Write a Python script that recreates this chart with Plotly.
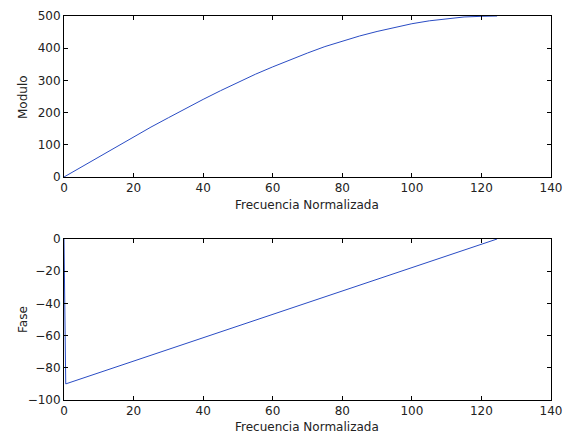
import plotly.graph_objects as go

# Data
freq_mod = [0, 5, 10, 15, 20, 25, 30, 35, 40, 45, 50, 55, 60, 65, 70, 75, 80,
            85, 90, 95, 100, 105, 110, 115, 120, 124.5]
modulo = [0, 31, 63, 94, 124, 155, 184, 213, 241, 268, 294, 319, 342, 364, 385,
          405, 422, 438, 452, 465, 476, 485, 492, 497, 499, 500]

freq_fase = [0, 0.5, 124.5]
fase = [0, -90, 0]

x_ticks = [0, 20, 40, 60, 80, 100, 120, 140]
mod_ticks = [0, 100, 200, 300, 400, 500]
fase_ticks = [-100, -80, -60, -40, -20, 0]

W, H = 563, 434
L, R = 64, 551
top_t, top_b = 16, 177
bot_t, bot_b = 239, 400

line_color = "#2a4cc4"
font = dict(family="DejaVu Sans, sans-serif", size=12, color="#222")

fig = go.Figure()
fig.add_trace(go.Scatter(x=freq_mod, y=modulo, mode="lines",
                         line=dict(color=line_color, width=1),
                         xaxis="x", yaxis="y", showlegend=False))
fig.add_trace(go.Scatter(x=freq_fase, y=fase, mode="lines",
                         line=dict(color=line_color, width=1),
                         xaxis="x2", yaxis="y2", showlegend=False))

ax_common = dict(showgrid=False, zeroline=False, showline=True, linecolor="black",
                 linewidth=1, mirror="ticks", ticks="inside", ticklen=4,
                 tickcolor="black", tickfont=font, automargin=False)

xd = [L / W, R / W]
fig.update_layout(
    width=W, height=H, margin=dict(l=0, r=0, t=0, b=0, pad=0),
    paper_bgcolor="white", plot_bgcolor="white", font=font,
    xaxis=dict(domain=xd, range=[0, 140], tickvals=x_ticks, anchor="y", **ax_common),
    yaxis=dict(domain=[1 - top_b / H, 1 - top_t / H], range=[0, 500],
               tickvals=mod_ticks, anchor="x", **ax_common),
    xaxis2=dict(domain=xd, range=[0, 140], tickvals=x_ticks, anchor="y2", **ax_common),
    yaxis2=dict(domain=[1 - bot_b / H, 1 - bot_t / H], range=[-100, 0],
                tickvals=fase_ticks, ticktext=["\u2212100", "\u221280", "\u221260",
                                               "\u221240", "\u221220", "0"],
                anchor="x2", **ax_common),
)

def ann(text, x, y, angle=0):
    fig.add_annotation(text=text, x=x / W, y=1 - y / H, xref="paper", yref="paper",
                       showarrow=False, textangle=angle, font=font,
                       xanchor="center", yanchor="middle")

ann("Modulo", 23, 97, -90)
ann("Frecuencia Normalizada", 307, 205)
ann("Fase", 23, 320, -90)
ann("Frecuencia Normalizada", 307, 427)

fig.write_html("out.html")
